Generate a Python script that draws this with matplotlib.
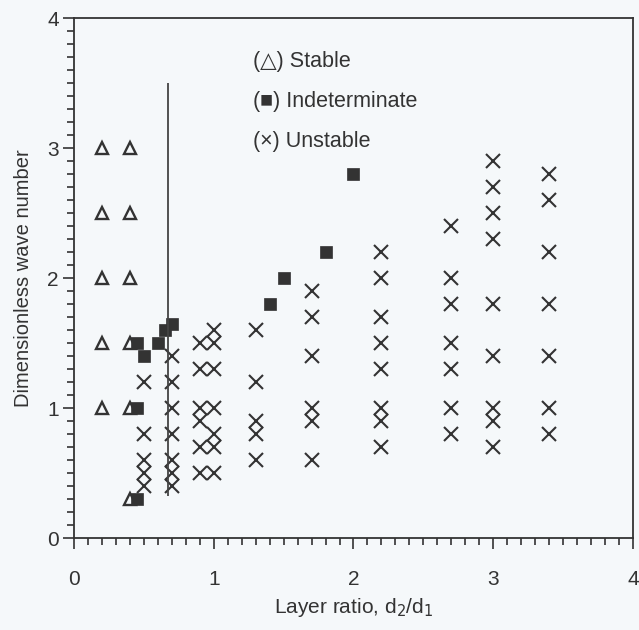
import numpy as np
import matplotlib
matplotlib.use("Agg")
import matplotlib.pyplot as plt
from matplotlib.ticker import MultipleLocator

# data
stable_x = [0.2, 0.2, 0.2, 0.2, 0.2, 0.4, 0.4, 0.4, 0.4, 0.4, 0.4]
stable_y = [3.0, 2.5, 2.0, 1.5, 1.0, 3.0, 2.5, 2.0, 1.5, 1.0, 0.3]

indet_x = [0.45, 0.45, 0.45, 0.5, 0.6, 0.65, 0.7, 1.4, 1.5, 1.8, 2.0]
indet_y = [0.3, 1.0, 1.5, 1.4, 1.5, 1.6, 1.65, 1.8, 2.0, 2.2, 2.8]

unstable_cols = {
    0.5: [1.2, 0.8, 0.6, 0.5, 0.4],
    0.7: [1.4, 1.2, 1.0, 0.8, 0.6, 0.5, 0.4],
    0.9: [1.5, 1.3, 1.0, 0.9, 0.7, 0.5],
    1.0: [1.6, 1.5, 1.3, 1.0, 0.8, 0.7, 0.5],
    1.3: [1.6, 1.2, 0.9, 0.8, 0.6],
    1.7: [1.9, 1.7, 1.4, 1.0, 0.9, 0.6],
    2.2: [2.2, 2.0, 1.7, 1.5, 1.3, 1.0, 0.9, 0.7],
    2.7: [2.4, 2.0, 1.8, 1.5, 1.3, 1.0, 0.8],
    3.0: [2.9, 2.7, 2.5, 2.3, 1.8, 1.4, 1.0, 0.9, 0.7],
    3.4: [2.8, 2.6, 2.2, 1.8, 1.4, 1.0, 0.8],
}

boundary_x = 0.67
boundary_y = [0.32, 3.5]

legend_labels = ["(\u25b3) Stable", "(\u25a0) Indeterminate", "(\u00d7) Unstable"]

ink = "#333333"
bg = "#f5f8fa"

plt.rcParams["font.family"] = ["Liberation Sans", "DejaVu Sans"]


def main():
    fig = plt.figure(figsize=(6.39, 6.30), dpi=100, facecolor=bg)
    ax = fig.add_axes([0.1158, 0.146, 0.8748, 0.8254], facecolor=bg)

    ux = [x for x, ys in unstable_cols.items() for _ in ys]
    uy = [y for ys in unstable_cols.values() for y in ys]

    ax.plot(stable_x, stable_y, ls="none", marker="^", ms=8, mfc="none",
            mec=ink, mew=1.7)
    ax.plot(indet_x, indet_y, ls="none", marker="s", ms=8.3, mfc=ink,
            mec=ink, mew=0.5)
    ax.plot(ux, uy, ls="none", marker="x", ms=9.5, mec=ink, mew=1.5)

    ax.vlines(boundary_x, boundary_y[0], boundary_y[1], color="#444444", lw=1.3)

    for i, lab in enumerate(legend_labels):
        ax.text(0.32, 0.916 - i * 0.077, lab, transform=ax.transAxes,
                fontsize=15.5, color=ink, va="center", ha="left")

    ax.set_xlim(0, 4)
    ax.set_ylim(0, 4)
    ax.xaxis.set_major_locator(MultipleLocator(1))
    ax.xaxis.set_minor_locator(MultipleLocator(0.1))
    ax.yaxis.set_major_locator(MultipleLocator(1))
    ax.yaxis.set_minor_locator(MultipleLocator(0.1))
    ax.tick_params(which="both", direction="out", color=ink, width=1.2,
                   labelcolor=ink, labelsize=15)
    ax.tick_params(which="major", length=8)
    ax.tick_params(which="minor", length=5)
    ax.tick_params(axis="x", which="major", pad=15)
    ax.tick_params(axis="y", which="major", pad=3)
    for s in ax.spines.values():
        s.set_color(ink)
        s.set_linewidth(1.3)

    ax.set_xlabel("Layer ratio, d$_2$/d$_1$", fontsize=15, color=ink, labelpad=5)
    ax.set_ylabel("Dimensionless wave number", fontsize=14.5, color=ink, labelpad=10)

    fig.savefig("out.png", dpi=100, facecolor=bg)


if __name__ == "__main__":
    main()
